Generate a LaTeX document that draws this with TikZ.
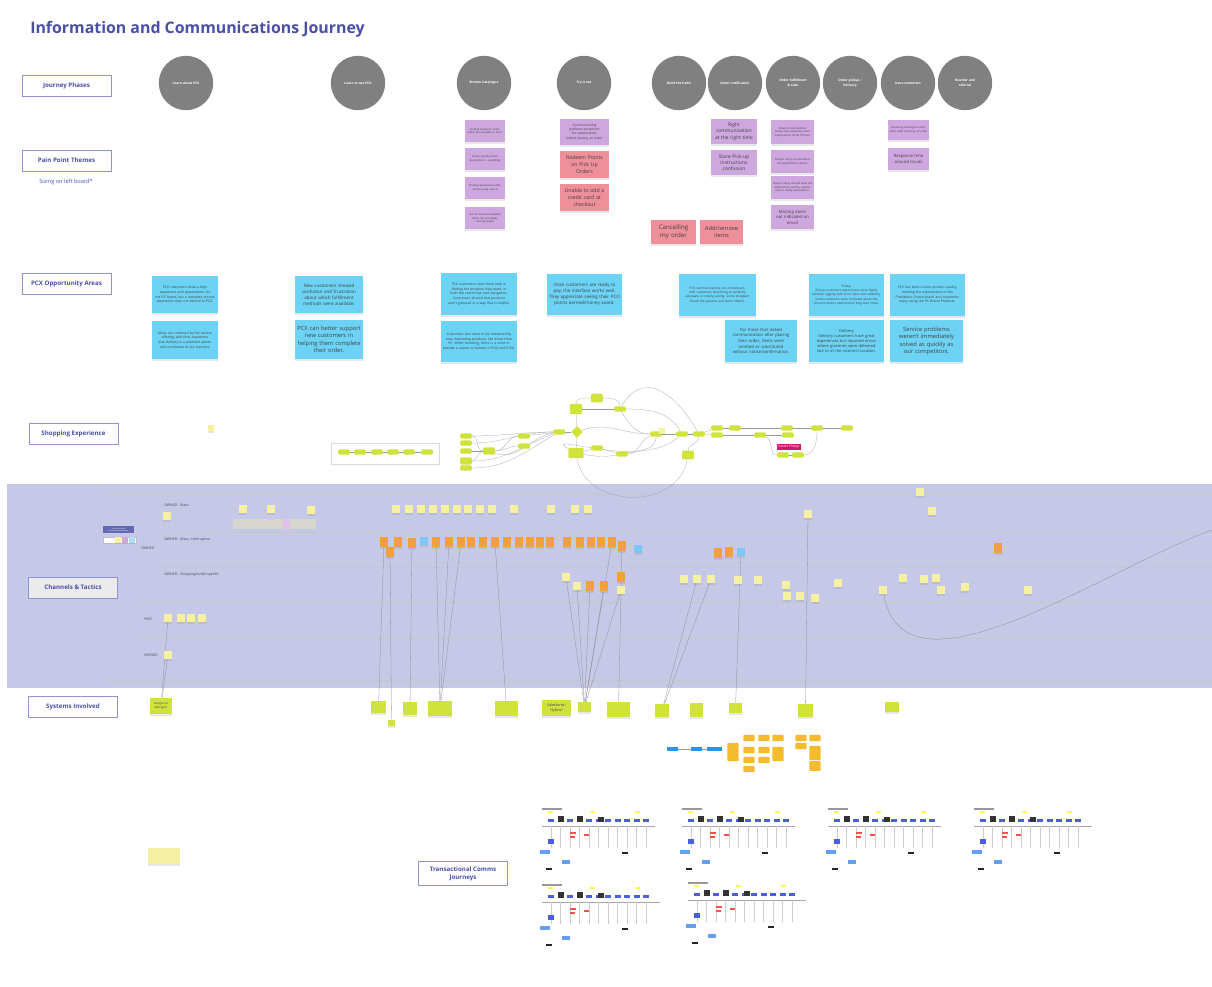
\documentclass[tikz,border=0pt]{standalone}
\usepackage{fontspec}
\setmainfont{Open Sans}
\usetikzlibrary{shapes.geometric,shadows}
\hyphenpenalty=10000
\exhyphenpenalty=10000
\definecolor{boardblue}{HTML}{4A4FA6}
\definecolor{sectionline}{HTML}{8F92D3}
\definecolor{phasegray}{HTML}{808080}
\definecolor{painpurple}{HTML}{CEA7DF}
\definecolor{painred}{HTML}{EF8F99}
\definecolor{oppcyan}{HTML}{6CD3F4}
\definecolor{flowlime}{HTML}{D0E33D}
\definecolor{bandlilac}{HTML}{C6C8E8}
\definecolor{chanyellow}{HTML}{F6F0A3}
\definecolor{chanorange}{HTML}{F2A03E}
\definecolor{chanblue}{HTML}{7CC8F2}
\definecolor{techamber}{HTML}{F5BB2E}
\definecolor{techblue}{HTML}{2F93E6}
\definecolor{easterpink}{HTML}{D4136E}
\definecolor{miniblue}{HTML}{4A5FE0}
\definecolor{cardgray}{HTML}{D6D6CF}
\pgfdeclarelayer{bglayer}
\pgfdeclarelayer{nodelayer}
\pgfdeclarelayer{edgelayer}
\pgfsetlayers{bglayer,edgelayer,nodelayer,main}
\tikzstyle{none}=[fill=none, draw=none, inner sep=0pt]
\tikzstyle{section}=[fill=white, draw=sectionline, line width=0.5pt, shape=rectangle, minimum width=22.25mm, minimum height=5.25mm, text=boardblue, font=\fontsize{4.4}{5.6}\selectfont\bfseries, align=center]
\tikzstyle{phase}=[fill=phasegray, draw=none, shape=circle, minimum size=13.6mm, inner sep=0pt, text=white, font=\fontsize{2.3}{3.2}\selectfont\bfseries, align=center]
\tikzstyle{sticky}=[shape=rectangle, draw=none, inner sep=0.35mm, align=center, text=black!75, drop shadow={shadow xshift=0mm, shadow yshift=-0.45mm, opacity=0.18}]
\tikzstyle{pain}=[sticky, fill=painpurple, font=\fontsize{1.9}{2.5}\selectfont]
\tikzstyle{pain big}=[sticky, fill=painpurple, font=\fontsize{3.5}{4.5}\selectfont]
\tikzstyle{pain red}=[sticky, fill=painred, font=\fontsize{3.7}{4.8}\selectfont]
\tikzstyle{opp}=[sticky, fill=oppcyan, font=\fontsize{2.4}{3.3}\selectfont]
\tikzstyle{opp mid}=[sticky, fill=oppcyan, font=\fontsize{3.2}{4.2}\selectfont]
\tikzstyle{opp big}=[sticky, fill=oppcyan, font=\fontsize{4.1}{5.3}\selectfont]
\tikzstyle{flow}=[fill=flowlime, draw=none, shape=rectangle, rounded corners=0.3mm, minimum width=2.9mm, minimum height=1.3mm, inner sep=0pt]
\tikzstyle{flow dec}=[fill=flowlime, draw=none, shape=diamond, minimum size=3mm, inner sep=0pt]
\tikzstyle{chan}=[sticky, fill=chanyellow, minimum width=1.8mm, minimum height=2mm, inner sep=0pt]
\tikzstyle{chan orange}=[sticky, fill=chanorange, minimum width=1.9mm, minimum height=2.6mm, inner sep=0pt]
\tikzstyle{chan blue}=[sticky, fill=chanblue, minimum width=1.8mm, minimum height=2mm, inner sep=0pt]
\tikzstyle{system}=[sticky, fill=flowlime, font=\fontsize{1.9}{2.5}\selectfont]
\tikzstyle{tech}=[fill=techamber, draw=none, rounded corners=0.2mm, minimum width=2.8mm, minimum height=1.6mm, inner sep=0pt]
\tikzstyle{flow edge}=[draw=black!40, line width=0.15pt]
\tikzstyle{wire}=[draw=black!45, line width=0.2pt]
\tikzstyle{lane}=[draw=black!22, line width=0.35pt]
\tikzstyle{lane label}=[none, anchor=west, text=black!70, font=\fontsize{2.5}{3.1}\selectfont]

\begin{document}
\begin{tikzpicture}[x=0.25mm, y=-0.25mm]
	\useasboundingbox (0,0) rectangle (1212,986);
	\begin{pgfonlayer}{bglayer}
		\fill [white] (0,0) rectangle (1212,986);
		\fill [bandlilac] (7,484) rectangle (1212,688);
		\draw [style=lane] (105,494) -- (1212,494);
		\draw [style=lane] (160,532) -- (1212,532);
		\draw [style=lane] (160,567) -- (1212,567);
		\draw [style=lane] (140,602) -- (1212,602);
		\draw [style=lane] (140,638) -- (1212,638);
		\draw [style=lane] (107,680) -- (1212,680);
		\fill [cardgray] (233,519) rectangle (316,529);
		\fill [painpurple!70] (283,519) rectangle (290,529);
		\draw [draw=black!15, line width=0.1pt] (331,443) rectangle (439,464);
	\end{pgfonlayer}
	\begin{pgfonlayer}{nodelayer}
		% headings
		\node [style=none, anchor=west, text=boardblue, font=\fontsize{11.3}{13}\selectfont\bfseries] (title) at (30,29) {Information and Communications Journey};
		\node [style=section] (s0) at (66.5,85.5) {Journey Phases};
		\node [style=section] (s1) at (66.5,160.5) {Pain Point Themes};
		\node [style=none, text=boardblue, font=\fontsize{4}{5}\selectfont] (s1a) at (66,182) {Sizing on left board*};
		\node [style=section] (s2) at (66.5,283.5) {PCX Opportunity Areas};
		\node [style=section] (s3) at (73.5,434) {Shopping Experience};
		\node [style=section, fill=black!8] (s4) at (73,587.5) {Channels \& Tactics};
		\node [style=section] (s5) at (73,706.5) {Systems Involved};
		\node [style=section, minimum height=5.4mm] (s6) at (463,873.5) {Transactional Comms\\Journeys};

		% journey phases
		\node [style=phase] (p0) at (186,83) {Learn about PCX};
		\node [style=phase] (p1) at (358,83) {Learn to use PCX};
		\node [style=phase] (p2) at (484,83) {Browse Catalogue};
		\node [style=phase] (p3) at (584,83) {Try it out};
		\node [style=phase] (p4) at (679,83) {Build the habit};
		\node [style=phase] (p5) at (735,83) {Order notification};
		\node [style=phase] (p6) at (793,83) {Order fulfillment\\\& subs};
		\node [style=phase] (p7) at (850,83) {Order pickup /\\Delivery};
		\node [style=phase] (p8) at (908,83) {Issue resolution};
		\node [style=phase] (p9) at (965,83) {Reorder and\\referral};

		% pain points
		\node [style=pain, text width=9.3mm, minimum height=5.5mm] (t0) at (485,131) {Finding products online which are available in store};
		\node [style=pain, text width=9.3mm, minimum height=5.5mm] (t1) at (485,159) {Clearer product/item descriptions + weighting};
		\node [style=pain, text width=9.3mm, minimum height=5.5mm] (t2) at (485,188) {Finding relevant/accurate results using search};
		\node [style=pain, text width=9.3mm, minimum height=5.5mm] (t3) at (485,218) {Out of stocks/unavailable items not accurately communicated};
		\node [style=pain, font=\fontsize{2.3}{3}\selectfont, text width=11.5mm, minimum height=6.5mm] (t4) at (584.5,132) {Communicating\\preferences/options\\for substitutions\\before placing an order};
		\node [style=pain red, text width=11.5mm, minimum height=6.7mm] (t5) at (584.5,164.5) {Redeem Points\\on Pick Up\\Orders};
		\node [style=pain red, text width=11.5mm, minimum height=6.7mm] (t6) at (584.5,197.5) {Unable to add a\\credit card at\\checkout};
		\node [style=pain big, text width=10.8mm, minimum height=6.3mm] (t7) at (734,131.5) {Right\\communication\\at the right time};
		\node [style=pain big, text width=10.8mm, minimum height=6.3mm] (t8) at (734,162.5) {Store Pick-up\\instructions\\confusion};
		\node [style=pain red, font=\fontsize{4.4}{5.6}\selectfont, text width=10.6mm, minimum height=6mm] (t9) at (673.5,232) {Cancelling\\my order};
		\node [style=pain red, font=\fontsize{4.1}{5.3}\selectfont, text width=10.1mm, minimum height=6mm] (t10) at (721.5,232) {Add/remove\\items};
		\node [style=pain, text width=10mm, minimum height=6mm] (t11) at (792.5,132) {Value of substitutions being more expensive than expectations (email friction)};
		\node [style=pain, text width=10mm, minimum height=5.8mm] (t12) at (792.5,161.5) {Deeper clarity around what the substitutions will be};
		\node [style=pain, text width=10mm, minimum height=5.8mm] (t13) at (792.5,187.5) {Deeper clarity around what the substitutions will be, expects calls to clarify substitutions};
		\node [style=pain, font=\fontsize{3}{3.9}\selectfont, text width=10mm, minimum height=6mm] (t14) at (792.5,217) {Missing items\\not indicated on\\email};
		\node [style=pain, text width=9.5mm, minimum height=5mm] (t15) at (908.5,130) {Resolving missing/incorrect items after receiving an order};
		\node [style=pain, font=\fontsize{3}{3.9}\selectfont, text width=9.5mm, minimum height=5.5mm] (t16) at (908.5,159) {Response time\\around issues};

		% opportunity areas
		\node [style=opp, text width=15.8mm, minimum height=9.3mm] (o0) at (185,294.5) {PCX customers show a high awareness and appreciation for the PC brand, but a complete service awareness does not extend to PCX.};
		\node [style=opp, text width=15.8mm, minimum height=9.5mm] (o1) at (185,340) {Many are confused by the service offering, with little awareness that delivery is a potential option and correlation to our banners.};
		\node [style=opp mid, text width=16.3mm, minimum height=9.3mm] (o2) at (329,294.5) {New customers showed confusion and frustration about which fulfillment methods were available.};
		\node [style=opp big, text width=16.3mm, minimum height=9.8mm] (o3) at (329,339.5) {PCX can better support\\new customers in\\helping them complete\\their order.};
		\node [style=opp, text width=18.3mm, minimum height=10.5mm] (o4) at (479,294) {PCX customers need more help in finding the products they want, in both the search bar and navigation. Consumers shared that products aren't grouped in a way that is helpful.};
		\node [style=opp, text width=18.3mm, minimum height=10.3mm] (o5) at (479,341.5) {Customers also want to be romanced by new, interesting products, like those from PC. When browsing, there is a need to provide a reason to believe in PCO and PCOI.};
		\node [style=opp mid, text width=18mm, minimum height=10.3mm] (o6) at (584.5,294.5) {Once customers are ready to pay, the interface works well. They appreciate seeing their PCO points earned/money saved.};
		\node [style=opp, font=\fontsize{2.2}{3}\selectfont, text width=18.5mm, minimum height=10.5mm] (o7) at (717.5,295) {PCX communications are inconsistent, with customers describing as perfectly adequate or totally lacking. Some shoppers found the updates and alerts helpful.};
		\node [style=opp mid, font=\fontsize{3}{4}\selectfont, text width=17.3mm, minimum height=10.5mm] (o8) at (761,341) {For those that lacked communication after placing their order, items were omitted or substituted without notice/confirmation.};
		\node [style=opp, font=\fontsize{2.2}{3}\selectfont, text width=18mm, minimum height=10.5mm] (o9) at (846.5,295) {Pickup\\Pickup customers experiences were highly variable, lagging with error rates and reliability. Some customers were confused about the process and/or experienced long wait times.};
		\node [style=opp, font=\fontsize{2.8}{3.7}\selectfont, text width=18mm, minimum height=10.5mm] (o10) at (846.5,341) {Delivery\\Delivery customers have great experiences but reported errors where groceries were delivered late or at the incorrect location.};
		\node [style=opp, text width=18mm, minimum height=10.5mm] (o11) at (927.5,295) {PCX has best-in-class product quality, meeting the expectations of the Presidents Choice brand and customers enjoy using the PC Brand Products.};
		\node [style=opp big, text width=17.5mm, minimum height=10.5mm] (o12) at (926.5,341) {Service problems\\weren't immediately\\solved as quickly as\\our competitors.};

		% shopping experience
		\node [style=chan, minimum width=1.6mm, minimum height=1.4mm, drop shadow={opacity=0}] (y0) at (211,428) {};
		\node [style=flow] (w0) at (344,452) {};
		\node [style=flow] (w1) at (360,452) {};
		\node [style=flow] (w2) at (377,452) {};
		\node [style=flow] (w3) at (393,452) {};
		\node [style=flow] (w4) at (409,452) {};
		\node [style=flow] (w5) at (427,452) {};
		\node [style=flow] (f0) at (466,436) {};
		\node [style=flow] (f1) at (466,443) {};
		\node [style=flow] (f2) at (466,451) {};
		\node [style=flow, minimum height=1.8mm] (f3) at (466,461) {};
		\node [style=flow] (f4) at (466,468) {};
		\node [style=flow, minimum height=1.8mm] (f5) at (489,451) {};
		\node [style=flow] (f6) at (524,436) {};
		\node [style=flow] (f7) at (524,446) {};
		\node [style=flow] (f8) at (559,432) {};
		\node [style=flow dec] (f9) at (577,432) {};
		\node [style=flow, minimum width=3.1mm, minimum height=2.6mm] (f10) at (576,409) {};
		\node [style=flow, minimum height=2.2mm] (f11) at (597,398) {};
		\node [style=flow] (f12) at (620,409) {};
		\node [style=flow, minimum width=3.8mm, minimum height=2.6mm] (f13) at (576,453) {};
		\node [style=flow] (f14) at (597,448) {};
		\node [style=flow] (f15) at (622,454) {};
		\node [style=flow] (f16) at (656,434) {};
		\node [style=chan, minimum width=1.3mm, minimum height=1.3mm, drop shadow={opacity=0}] (y1) at (662,431) {};
		\node [style=flow] (f17) at (682,434) {};
		\node [style=flow] (f18) at (699,434) {};
		\node [style=flow, minimum height=2.2mm] (f19) at (688,455) {};
		\node [style=flow] (f20) at (717,428) {};
		\node [style=flow] (f21) at (717,435) {};
		\node [style=flow] (f22) at (735,428) {};
		\node [style=flow] (f23) at (760,435) {};
		\node [style=flow] (f24) at (787,428) {};
		\node [style=flow] (f25) at (788,435) {};
		\node [style=flow] (f26) at (817,428) {};
		\node [style=flow] (f27) at (847,428) {};
		\node [style=none, fill=easterpink, text=white, font=\fontsize{2.4}{3}\selectfont, inner sep=0.4mm] (f28) at (789,447) {Easter Pickup};
		\node [style=flow] (f29) at (783,455) {};
		\node [style=flow] (f30) at (798,455) {};

		% channels and tactics
		\node [style=lane label] (l0) at (164,505) {OWNED - Mass};
		\node [style=lane label] (l1) at (164,540) {OWNED - Mass, Interruptive};
		\node [style=lane label] (l2) at (164,575) {OWNED - Shopping/order specific};
		\node [style=lane label] (l3) at (141,548) {OWNED};
		\node [style=lane label] (l4) at (144,619) {PAID};
		\node [style=lane label] (l5) at (144,655) {EARNED};
		\node [style=none, fill=boardblue!85, text=white, font=\fontsize{1.2}{1.5}\selectfont, minimum width=7.8mm, minimum height=1.8mm, align=center] (g0) at (118.5,529.5) {Information and\\Communication Artifacts};
		\node [style=none, fill=white, draw=black!25, line width=0.1pt, minimum width=8.2mm, minimum height=1.5mm] (g1) at (119.5,540) {};
		\node [style=chan, minimum width=1.5mm, minimum height=1.3mm, drop shadow={opacity=0}] (g2) at (118,540) {};
		\node [style=chan, fill=painpurple, minimum width=1.5mm, minimum height=1.3mm, drop shadow={opacity=0}] (g3) at (125,540) {};
		\node [style=chan, fill=chanblue!60, minimum width=1.5mm, minimum height=1.3mm, drop shadow={opacity=0}] (g4) at (132,540) {};
		\node [style=chan] (c0) at (167,516) {};
		\node [style=chan] (c1) at (243,509) {};
		\node [style=chan] (c2) at (271,509) {};
		\node [style=chan] (c3) at (311,510) {};
		\node [style=chan] (c4) at (396,509) {};
		\node [style=chan] (c5) at (409,509) {};
		\node [style=chan] (c6) at (421,509) {};
		\node [style=chan] (c7) at (433,509) {};
		\node [style=chan] (c8) at (445,509) {};
		\node [style=chan] (c9) at (457,509) {};
		\node [style=chan] (c10) at (468,509) {};
		\node [style=chan] (c11) at (480,509) {};
		\node [style=chan] (c12) at (492,509) {};
		\node [style=chan] (c13) at (514,509) {};
		\node [style=chan] (c14) at (551,509) {};
		\node [style=chan] (c15) at (575,509) {};
		\node [style=chan] (c16) at (588,509) {};
		\node [style=chan] (c17) at (808,514) {};
		\node [style=chan] (c18) at (920,492) {};
		\node [style=chan] (c19) at (932,511) {};
		\node [style=chan orange] (k0) at (384,542) {};
		\node [style=chan orange] (k1) at (398,542) {};
		\node [style=chan orange] (k2) at (390,552) {};
		\node [style=chan orange] (k3) at (412,543) {};
		\node [style=chan blue] (k4) at (424,541) {};
		\node [style=chan orange] (k5) at (436,542) {};
		\node [style=chan orange] (k6) at (449,542) {};
		\node [style=chan orange] (k7) at (461,542) {};
		\node [style=chan orange] (k8) at (471,542) {};
		\node [style=chan orange] (k9) at (483,542) {};
		\node [style=chan orange] (k10) at (495,542) {};
		\node [style=chan orange] (k11) at (507,542) {};
		\node [style=chan orange] (k12) at (519,542) {};
		\node [style=chan orange] (k13) at (530,542) {};
		\node [style=chan orange] (k14) at (540,542) {};
		\node [style=chan orange] (k15) at (550,542) {};
		\node [style=chan orange] (k16) at (567,542) {};
		\node [style=chan orange] (k17) at (580,542) {};
		\node [style=chan orange] (k18) at (591,542) {};
		\node [style=chan orange] (k19) at (601,542) {};
		\node [style=chan orange] (k20) at (612,542) {};
		\node [style=chan orange] (k21) at (622,546) {};
		\node [style=chan blue] (k22) at (638,549) {};
		\node [style=chan orange] (k23) at (718,553) {};
		\node [style=chan orange] (k24) at (729,552) {};
		\node [style=chan blue] (k25) at (741,552) {};
		\node [style=chan orange] (k26) at (998,548) {};
		\node [style=chan] (h0) at (566,577) {};
		\node [style=chan] (h1) at (577,586) {};
		\node [style=chan orange] (h2) at (590,586) {};
		\node [style=chan orange] (h3) at (604,586) {};
		\node [style=chan orange] (h4) at (621,577) {};
		\node [style=chan] (h5) at (621,590) {};
		\node [style=chan] (h6) at (684,579) {};
		\node [style=chan] (h7) at (697,579) {};
		\node [style=chan] (h8) at (711,579) {};
		\node [style=chan] (h9) at (738,580) {};
		\node [style=chan] (h10) at (758,580) {};
		\node [style=chan] (h11) at (786,585) {};
		\node [style=chan] (h12) at (787,596) {};
		\node [style=chan] (h13) at (800,596) {};
		\node [style=chan] (h14) at (815,598) {};
		\node [style=chan] (h15) at (838,583) {};
		\node [style=chan] (h16) at (883,590) {};
		\node [style=chan] (h17) at (903,578) {};
		\node [style=chan] (h18) at (924,579) {};
		\node [style=chan] (h19) at (936,578) {};
		\node [style=chan] (h20) at (941,590) {};
		\node [style=chan] (h21) at (965,587) {};
		\node [style=chan] (h22) at (1028,590) {};
		\node [style=chan] (a0) at (168,618) {};
		\node [style=chan] (a1) at (181,618) {};
		\node [style=chan] (a2) at (191,618) {};
		\node [style=chan] (a3) at (202,618) {};
		\node [style=chan] (e0) at (168,655) {};

		% systems involved
		\node [style=system, font=\fontsize{2}{2.6}\selectfont, text width=5mm, minimum height=4mm] (q0) at (161,706) {Google Ad Manager?};
		\node [style=system, minimum width=3.7mm, minimum height=3mm] (q1) at (378.5,707) {};
		\node [style=system, minimum width=1.8mm, minimum height=1.5mm] (q2) at (391.5,723) {};
		\node [style=system, minimum width=3.5mm, minimum height=3.2mm] (q3) at (410,708.5) {};
		\node [style=system, minimum width=6mm, minimum height=3.7mm] (q4) at (440,708.5) {};
		\node [style=system, minimum width=5.7mm, minimum height=3.7mm] (q5) at (506.5,708.5) {};
		\node [style=system, font=\fontsize{2.6}{3.3}\selectfont, text width=6.5mm, minimum height=4mm] (q6) at (556.5,708) {Salesforce/ Hybris?};
		\node [style=system, minimum width=3.2mm, minimum height=2.5mm] (q7) at (584.5,707) {};
		\node [style=system, minimum width=5.7mm, minimum height=3.7mm] (q8) at (618.5,709.5) {};
		\node [style=system, minimum width=3.5mm, minimum height=3.2mm] (q9) at (662,710.5) {};
		\node [style=system, minimum width=3.3mm, minimum height=3.5mm] (q10) at (696.5,710) {};
		\node [style=system, minimum width=3.3mm, minimum height=2.5mm] (q11) at (735.5,708) {};
		\node [style=system, minimum width=3.7mm, minimum height=3.2mm] (q12) at (805.5,710.5) {};
		\node [style=system, minimum width=3.5mm, minimum height=2.5mm] (q13) at (892,707) {};
		\node [style=none, fill=techblue, minimum width=2.8mm, minimum height=1.2mm] (b0) at (672.5,749) {};
		\node [style=none, fill=techblue, minimum width=2.8mm, minimum height=1.2mm] (b1) at (696.5,749) {};
		\node [style=none, fill=techblue, minimum width=3.8mm, minimum height=1.2mm] (b2) at (714.5,749) {};
		\node [style=tech, minimum height=4.5mm] (r0) at (733,752) {};
		\node [style=tech] (r1) at (749,738) {};
		\node [style=tech] (r2) at (749,750) {};
		\node [style=tech] (r3) at (749,760) {};
		\node [style=tech] (r4) at (749,769) {};
		\node [style=tech] (r5) at (764,738) {};
		\node [style=tech] (r6) at (764,750) {};
		\node [style=tech] (r7) at (764,760) {};
		\node [style=tech] (r8) at (778,738) {};
		\node [style=tech, minimum height=3.6mm] (r9) at (778,754) {};
		\node [style=tech] (r10) at (801,738) {};
		\node [style=tech] (r11) at (801,746) {};
		\node [style=tech] (r12) at (815,738) {};
		\node [style=tech, minimum height=3.6mm] (r13) at (815,753) {};
		\node [style=tech, minimum height=2.4mm] (r14) at (815,766) {};
		\node [style=chan, minimum width=8mm, minimum height=4mm] (n0) at (164,856) {};
	\end{pgfonlayer}
	\begin{pgfonlayer}{edgelayer}
		\draw [style=flow edge] (w0) to (w1);
		\draw [style=flow edge] (w1) to (w2);
		\draw [style=flow edge] (w2) to (w3);
		\draw [style=flow edge] (w3) to (w4);
		\draw [style=flow edge] (w4) to (w5);
		\draw [style=flow edge, out=0, in=180] (f0) to (f8);
		\draw [style=flow edge, out=0, in=180] (f1) to (f8);
		\draw [style=flow edge, out=0, in=180] (f2) to (f5);
		\draw [style=flow edge, out=0, in=180] (f3) to (f5);
		\draw [style=flow edge, out=0, in=200] (f3) to (f8);
		\draw [style=flow edge, out=0, in=210] (f4) to (f8);
		\draw [style=flow edge, out=0, in=180] (f0) to (f5);
		\draw [style=flow edge, out=0, in=180] (f5) to (f6);
		\draw [style=flow edge, out=0, in=180] (f5) to (f7);
		\draw [style=flow edge, out=-20, in=190] (f5) to (f8);
		\draw [style=flow edge] (f6) to (f8);
		\draw [style=flow edge] (f8) to (f9);
		\draw [style=flow edge] (f9) to (f10);
		\draw [style=flow edge, out=90, in=180] (f10) to (f11);
		\draw [style=flow edge, out=0, in=90] (f11) to (f12);
		\draw [style=flow edge] (f10) to (f12);
		\draw [style=flow edge] (f9) to (f13);
		\draw [style=flow edge, out=20, in=180] (f9) to (f16);
		\draw [style=flow edge, out=-60, in=180] (f12) to (f16);
		\draw [style=flow edge, out=0, in=120] (f12) to (f17);
		\draw [style=flow edge, out=60, in=120, looseness=1.4] (f12) to (f18);
		\draw [style=flow edge] (f13) to (f14);
		\draw [style=flow edge] (f14) to (f15);
		\draw [style=flow edge, out=-10, in=190] (f13) to (f15);
		\draw [style=flow edge, out=0, in=200] (f15) to (f16);
		\draw [style=flow edge, out=10, in=220] (f15) to (f17);
		\draw [style=flow edge, out=-80, in=-100, looseness=1.2] (f13) to (f19);
		\draw [style=flow edge, out=150, in=-90] (f13) to (f16);
		\draw [style=flow edge] (f16) to (f17);
		\draw [style=flow edge] (f17) to (f18);
		\draw [style=flow edge, out=90, in=-90] (f19) to (f18);
		\draw [style=flow edge] (f18) to (f20);
		\draw [style=flow edge] (f18) to (f21);
		\draw [style=flow edge] (f20) to (f22);
		\draw [style=flow edge] (f22) to (f24);
		\draw [style=flow edge] (f24) to (f26);
		\draw [style=flow edge] (f26) to (f27);
		\draw [style=flow edge] (f21) to (f23);
		\draw [style=flow edge] (f23) to (f25);
		\draw [style=flow edge, out=-20, in=180] (f23) to (f29);
		\draw [style=flow edge] (f29) to (f30);
		\draw [style=flow edge, out=0, in=-90] (f30) to (f26);
		\draw [style=wire] (a0) to (q0);
		\draw [style=wire] (e0) to (q0);
		\draw [style=wire] (k0) to (q1);
		\draw [style=wire] (k2) to (q2);
		\draw [style=wire] (k3) to (q3);
		\draw [style=wire] (k5) to (q4);
		\draw [style=wire] (k6) to (q4);
		\draw [style=wire] (k7) to (q4);
		\draw [style=wire] (k10) to (q5);
		\draw [style=wire] (h0) to (q7);
		\draw [style=wire] (h1) to (q7);
		\draw [style=wire] (h2) to (q7);
		\draw [style=wire] (h3) to (q7);
		\draw [style=wire] (h5) to (q7);
		\draw [style=wire] (k20) to (q7);
		\draw [style=wire] (k21) to (q8);
		\draw [style=wire] (h7) to (q9);
		\draw [style=wire] (h8) to (q9);
		\draw [style=wire] (k25) to (q11);
		\draw [style=wire] (c17) to (q12);
		\draw [style=wire, out=-80, in=200, looseness=0.9] (h16) to (1212,530);
		\draw [style=flow edge] (b0) to (b1);
		\draw [style=flow edge] (b1) to (b2);
	\end{pgfonlayer}
	% transactional comms journeys
	\foreach \ox/\oy/\ow in {540/808/115, 680/808/115, 826/808/115, 972/808/120, 540/884/120, 686/882/120} {
		\begin{scope}[shift={(\ox,\oy)}]
			\fill [black!40] (2,0) rectangle (22,1.5);
			\draw [black!35, line width=0.15pt] (2,18) -- (\ow,18);
			\foreach \i in {0,...,10} {
				\fill [miniblue] (8+\i*9.5,11) rectangle (14+\i*9.5,14);
				\draw [black!20, line width=0.1pt] (11+\i*9.5,18) -- (11+\i*9.5,40);
			}
			\fill [black!80] (18,8) rectangle (24,14);
			\fill [black!80] (37,8) rectangle (43,14);
			\fill [black!80] (58,9) rectangle (64,14);
			\fill [chanyellow!50!yellow] (8,3) rectangle (13,4.5);
			\fill [chanyellow!50!yellow] (50,3) rectangle (55,4.5);
			\fill [chanyellow!50!yellow] (95,3) rectangle (100,4.5);
			\fill [red!70] (30,24) rectangle (36,26);
			\fill [red!70] (30,28) rectangle (35,30);
			\fill [red!70] (44,26) rectangle (49,28);
			\fill [miniblue] (8,31) rectangle (14,36);
			\fill [chanblue!80!blue] (0,42) rectangle (10,46);
			\fill [chanblue!80!blue] (22,52) rectangle (30,56);
			\fill [black!85] (6,60) rectangle (12,62);
			\fill [black!85] (82,44) rectangle (88,46);
		\end{scope}
	}
\end{tikzpicture}
\end{document}
